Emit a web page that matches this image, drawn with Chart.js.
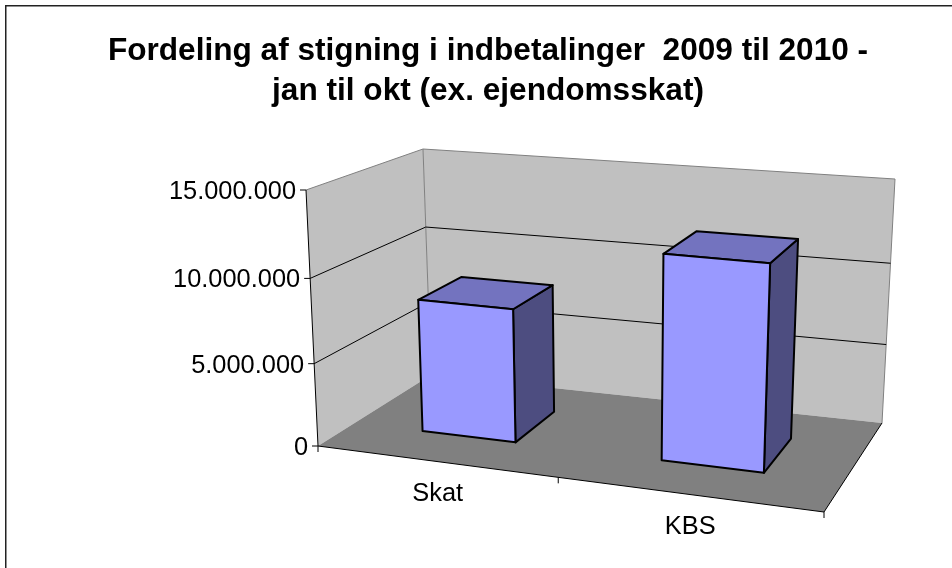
<!DOCTYPE html>
<html>
<head>
<meta charset="utf-8">
<style>
    html, body { margin: 0; padding: 0; background: #fff; }
    canvas { display: block; }
</style>
<script src="https://cdn.jsdelivr.net/npm/chart.js@4"></script>
</head>
<body>
<canvas id="chart" width="952" height="568"></canvas>
<script>
const categories = ['Skat', 'KBS']
const values = [8100000, 12100000]
const axisMax = 15000000
const axisStep = 5000000
const titleLines = ['Fordeling af stigning i indbetalinger  2009 til 2010 -', 'jan til okt (ex. ejendomsskat)']

// corners of the 3d box on the page: front left, front right, back right, back left
const floorCorners = [[318, 446], [824, 512], [882, 423], [431, 375]]
const roofCorners = [[306, 190], [836, 236], [895, 179], [423, 149]]
const heightBend = 1.055
const floorBend = 0.965
const roofBend = 0.9
const barDepthFront = 0.3
const barDepthBack = 0.7

const fontFamily = "'Liberation Sans', Arial, sans-serif"

const getSquareToQuad = ([p0, p1, p2, p3]) => {
    const dx1 = p1[0] - p2[0], dx2 = p3[0] - p2[0], sx = p0[0] - p1[0] + p2[0] - p3[0]
    const dy1 = p1[1] - p2[1], dy2 = p3[1] - p2[1], sy = p0[1] - p1[1] + p2[1] - p3[1]
    const det = dx1 * dy2 - dx2 * dy1
    const g = (sx * dy2 - dx2 * sy) / det
    const h = (dx1 * sy - sx * dy1) / det
    const a = p1[0] - p0[0] + g * p1[0], b = p3[0] - p0[0] + h * p3[0]
    const d = p1[1] - p0[1] + g * p1[1], e = p3[1] - p0[1] + h * p3[1]

    return (u, w) => {
        const z = g * u + h * w + 1
        return [(a * u + b * w + p0[0]) / z, (d * u + e * w + p0[1]) / z]
    }
}

const floorAt = getSquareToQuad(floorCorners)
const roofAt = getSquareToQuad(roofCorners)

const bend = (t, k) => t / (t + k * (1 - t))

// u along the categories, t up the value axis, w into the depth, all 0..1
const project = (u, t, w) => {
    const bottom = floorAt(bend(u, floorBend), w)
    const top = roofAt(bend(u, roofBend), w)
    const up = bend(t, heightBend)
    return [bottom[0] + (top[0] - bottom[0]) * up, bottom[1] + (top[1] - bottom[1]) * up]
}

const fillFace = (ctx, points, fill, stroke, lineWidth) => {
    ctx.beginPath()
    points.forEach((p, i) => i ? ctx.lineTo(p[0], p[1]) : ctx.moveTo(p[0], p[1]))
    ctx.closePath()
    if (fill) {
        ctx.fillStyle = fill
        ctx.fill()
    }
    if (stroke) {
        ctx.strokeStyle = stroke
        ctx.lineWidth = lineWidth
        ctx.stroke()
    }
}

const drawLine = (ctx, points, color, lineWidth = 1) => {
    ctx.beginPath()
    points.forEach((p, i) => i ? ctx.lineTo(p[0], p[1]) : ctx.moveTo(p[0], p[1]))
    ctx.strokeStyle = color
    ctx.lineWidth = lineWidth
    ctx.stroke()
}

const getAxisFraction = (scale, value) => (scale.bottom - scale.getPixelForValue(value)) / scale.height

const formatTick = value => String(value).replace(/\B(?=(\d{3})+$)/g, '.')

const box3d = {
    id: 'box3d',
    beforeDatasetsDraw(chart) {
        const { ctx, scales: { y } } = chart

        ctx.save()
        fillFace(ctx, [project(0, 0, 0), project(0, 1, 0), project(0, 1, 1), project(0, 0, 1)], '#c0c0c0')
        fillFace(ctx, [project(0, 0, 1), project(0, 1, 1), project(1, 1, 1), project(1, 0, 1)], '#c0c0c0')
        fillFace(ctx, [project(0, 0, 0), project(1, 0, 0), project(1, 0, 1), project(0, 0, 1)], '#808080')

        drawLine(ctx, [project(0, 1, 0), project(0, 1, 1), project(1, 1, 1), project(1, 0, 1)], '#808080')
        drawLine(ctx, [project(0, 1, 1), project(0, 0, 1)], '#808080')

        y.ticks.forEach(tick => {
            const t = getAxisFraction(y, tick.value)
            if (t > 0 && t < 1) {
                drawLine(ctx, [project(0, t, 0), project(0, t, 1), project(1, t, 1)], '#000')
            }
        })

        drawLine(ctx, [project(0, 0, 0), project(0, 1, 0)], '#000')
        drawLine(ctx, [project(0, 0, 0), project(1, 0, 0), project(1, 0, 1)], '#000')
        ctx.restore()
    },
    beforeDatasetDraw() {
        return false
    },
    afterDatasetsDraw(chart) {
        const { ctx, scales: { x, y } } = chart
        const bars = chart.getDatasetMeta(0).data

        ctx.save()
        ctx.lineJoin = 'round'
        bars.forEach((bar, i) => {
            const u0 = (bar.x - bar.width / 2 - x.left) / x.width
            const u1 = (bar.x + bar.width / 2 - x.left) / x.width
            const t = getAxisFraction(y, values[i])
            const w0 = barDepthFront
            const w1 = barDepthBack

            fillFace(ctx, [project(u1, 0, w0), project(u1, t, w0), project(u1, t, w1), project(u1, 0, w1)], '#4d4d80', '#000', 2)
            fillFace(ctx, [project(u0, t, w0), project(u1, t, w0), project(u1, t, w1), project(u0, t, w1)], '#7373bf', '#000', 2)
            fillFace(ctx, [project(u0, 0, w0), project(u1, 0, w0), project(u1, t, w0), project(u0, t, w0)], '#9999ff', '#000', 2)
        })

        ctx.fillStyle = '#000'
        ctx.font = `25.4px ${fontFamily}`

        // value axis labels and ticks follow the slanted front edge
        ctx.textAlign = 'right'
        ctx.textBaseline = 'middle'
        y.ticks.forEach(tick => {
            const p = project(0, getAxisFraction(y, tick.value), 0)
            drawLine(ctx, [p, [p[0] - 6, p[1]]], '#000')
            ctx.fillText(formatTick(tick.value), p[0] - 10, p[1] + 2)
        })

        // category ticks and labels under the slanted front edge
        ctx.textAlign = 'center'
        for (let i = 0; i <= categories.length; i++) {
            const p = project(i / categories.length, 0, 0)
            drawLine(ctx, [p, [p[0], p[1] + 6]], '#000')
        }
        categories.forEach((label, i) => {
            const p = project((i + 0.5) / categories.length, 0, 0)
            ctx.fillText(label, p[0] + 2.5, p[1] + 33)
        })

        ctx.restore()
    },
    afterDraw(chart) {
        const { ctx } = chart
        ctx.save()
        drawLine(ctx, [[5.75, 568], [5.75, 5.75], [952, 5.75]], '#222', 1.5)
        ctx.restore()
    }
}

new Chart(document.querySelector('#chart'), {
    type: 'bar',
    data: {
        labels: categories,
        datasets: [{
            data: values,
            backgroundColor: '#9999ff',
            barPercentage: 0.4,
            categoryPercentage: 1
        }]
    },
    options: {
        responsive: false,
        animation: false,
        layout: {
            padding: { left: 42, right: 18, top: 31, bottom: 40 }
        },
        plugins: {
            legend: { display: false },
            tooltip: { enabled: false },
            title: {
                display: true,
                text: titleLines,
                color: '#000',
                padding: { top: 0, bottom: 10 },
                font: { family: fontFamily, size: 31.6, weight: 'bold', lineHeight: 1.266 }
            }
        },
        scales: {
            x: { display: false },
            y: {
                display: false,
                min: 0,
                max: axisMax,
                ticks: { stepSize: axisStep }
            }
        }
    },
    plugins: [box3d]
})
</script>
</body>
</html>
